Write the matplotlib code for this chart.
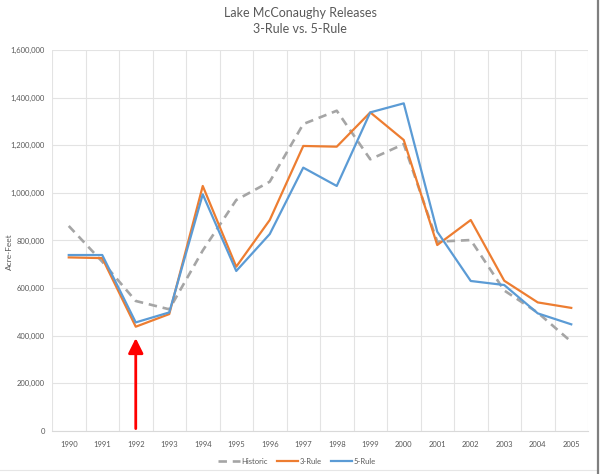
import matplotlib.pyplot as plt
from matplotlib.lines import Line2D
from matplotlib.ticker import FuncFormatter, MultipleLocator
import numpy as np

years = ['1990', '1991', '1992', '1993', '1994', '1995', '1996', '1997',
         '1998', '1999', '2000', '2001', '2002', '2003', '2004', '2005']
historic = [861000, 711000, 546000, 511000, 758000, 970000, 1047000, 1289000,
            1345000, 1141000, 1205000, 795000, 802000, 590000, 497000, 375000]
rule3 = [729000, 726000, 438000, 491000, 1029000, 690000, 886000, 1197000,
         1194000, 1338000, 1222000, 781000, 886000, 631000, 540000, 517000]
rule5 = [739000, 739000, 456000, 498000, 994000, 672000, 827000, 1106000,
         1029000, 1338000, 1376000, 837000, 630000, 613000, 494000, 448000]

# red arrow pointing at 1992
arrow_year = '1992'
arrow_from = 10000
arrow_to = 390000

plt.rcParams['font.family'] = ['Lato', 'DejaVu Sans']
txt = '#595959'
grid = '#e3e3e3'

fig = plt.figure(figsize=(6.02, 4.74), dpi=100)
ax = fig.add_axes([52 / 602, 1 - 431 / 474, 536 / 602, 381 / 474])

x = np.arange(len(years))
ax.plot(x, historic, color='#a5a5a5', lw=1.9, dashes=(3.2, 2.2), label='Historic')
ax.plot(x, rule3, color='#ed7d31', lw=1.6, label='3-Rule')
ax.plot(x, rule5, color='#5b9bd5', lw=1.6, label='5-Rule')

xi = years.index(arrow_year)
ax.annotate('', xy=(xi, arrow_to), xytext=(xi, arrow_from),
            arrowprops=dict(arrowstyle='-|>,head_length=0.9,head_width=0.45',
                            color='#ff0000', lw=2.0, shrinkA=0, shrinkB=0))

ax.set_xlim(-0.5, len(years) - 0.5)
ax.set_ylim(0, 1600000)
ax.set_xticks(x)
ax.set_xticklabels(years)
ax.set_xticks(np.arange(-0.5, len(years)), minor=True)
ax.yaxis.set_major_locator(MultipleLocator(200000))
ax.yaxis.set_major_formatter(FuncFormatter(lambda v, p: f'{int(v):,}'))
ax.grid(True, axis='y', which='major', color=grid, lw=0.8)
ax.grid(True, axis='x', which='minor', color=grid, lw=0.8)
ax.set_axisbelow(True)
ax.tick_params(which='both', length=0, labelsize=5.5, labelcolor=txt)
ax.tick_params(axis='x', pad=7)
ax.tick_params(axis='y', pad=5)
for s in ['top', 'right', 'left']:
    ax.spines[s].set_visible(False)
ax.spines['bottom'].set_color('#d9d9d9')
ax.set_ylabel('Acre-Feet', fontsize=6, color=txt)
ax.yaxis.set_label_coords(-0.072, 0.47)

fig.suptitle('Lake McConaughy Releases\n3-Rule vs. 5-Rule', x=300 / 602, y=1 - 7 / 474,
             fontsize=9, color=txt, va='top', linespacing=1.4)

ax.legend(loc='center', bbox_to_anchor=(297 / 602, 1 - 461 / 474),
          bbox_transform=fig.transFigure, ncol=3, frameon=False, fontsize=5.5,
          labelcolor=txt, handlelength=2.8, columnspacing=1.2, handletextpad=0.2)

fig.add_artist(Line2D([0, 598 / 602], [1 - 470 / 474] * 2, transform=fig.transFigure,
                      color='#e6e6e6', lw=0.8))
fig.add_artist(Line2D([598 / 602] * 2, [0, 1], transform=fig.transFigure,
                      color='#7f7f7f', lw=1.6))

fig.savefig('out.png', dpi=100)
